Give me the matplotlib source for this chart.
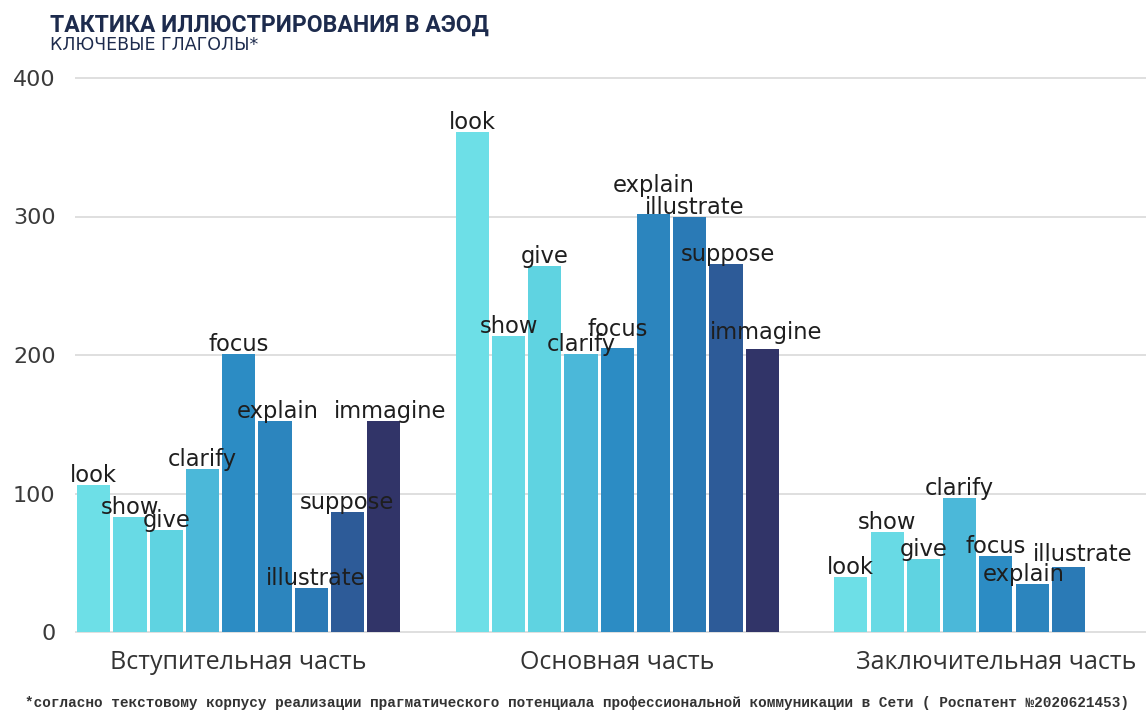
import matplotlib
matplotlib.use('Agg')
import matplotlib.pyplot as plt
import numpy as np

# data
categories = ['Вступительная часть', 'Основная часть', 'Заключительная часть']
verbs = ['look', 'show', 'give', 'clarify', 'focus', 'explain', 'illustrate', 'suppose', 'immagine']
intro_part = [106, 83, 74, 118, 201, 152, 32, 87, 152]
main_part = [361, 214, 264, 201, 205, 302, 300, 266, 204]
final_part = [40, 72, 53, 97, 55, 35, 47]
y_ticks = [0, 100, 200, 300, 400]

title = 'ТАКТИКА ИЛЛЮСТРИРОВАНИЯ В АЭОД'
subtitle = 'КЛЮЧЕВЫЕ ГЛАГОЛЫ*'
footnote = ('*согласно текстовому корпусу реализации прагматического потенциала '
            'профессиональной коммуникации в Сети ( Роспатент №2020621453)')

colors = ['#6ddfe7', '#68dae5', '#5fd3e1', '#4bb8d9', '#2c8cc4',
          '#2c85be', '#2a7ab6', '#2d5b98', '#313468']

# nudges of some bar labels (pixels), as placed in the reference
label_nudge = {
    (0, 'explain'): (3, 0), (0, 'illustrate'): (4, 0), (0, 'immagine'): (6, 0),
    (1, 'focus'): (0, 9), (1, 'explain'): (0, 19), (1, 'illustrate'): (5, 0),
    (1, 'suppose'): (2, 0), (1, 'immagine'): (4, 7),
    (2, 'explain'): (-8, 0), (2, 'illustrate'): (14, 3),
}

W, H = 1146, 713
fig = plt.figure(figsize=(W / 100, H / 100), dpi=100)
px = 138.5 / 100  # pixels per unit
bottom_px = 81 - 1 * px
ax = fig.add_axes([75 / W, bottom_px / H, 1 - 75 / W, 402 * px / H])

slot = 36.2 / 378
bar_w = 33 / 378
groups = [intro_part, main_part, final_part]
for g, values in enumerate(groups):
    for i, v in enumerate(values):
        x = g + (i - 4) * slot
        ax.bar(x, v, width=bar_w, color=colors[i], zorder=2)
        dx, dy = label_nudge.get((g, verbs[i]), (0, 0))
        ax.text(x + dx / 378, v + (3 + dy) / px, verbs[i], ha='center', va='baseline',
                fontsize=16.3, color='#1e1e1e', zorder=3)

ax.set_xlim(-(238.5 - 75) / 378, 2 + (W - 996) / 378)
ax.set_ylim(-1, 401)
ax.set_yticks(y_ticks)
ax.set_xticks(range(len(categories)), categories)
ax.yaxis.grid(True, color='#dcdcdc', linewidth=1.3, zorder=0)
ax.set_axisbelow(True)
for s in ax.spines.values():
    s.set_visible(False)
ax.tick_params(axis='y', length=0, pad=14, labelsize=16, labelcolor='#3a3a3a')
ax.tick_params(axis='x', length=0, pad=12, labelsize=18, labelcolor='#333333')
for lbl in ax.get_xticklabels():
    lbl.set_family('Open Sans')

fig.text(50 / W, 1 - 25 / H, title, ha='left', va='center', fontsize=16.6,
         fontweight='bold', color='#1d2b4d', family=['Roboto', 'DejaVu Sans'])
fig.text(50 / W, 1 - 45 / H, subtitle, ha='left', va='center', fontsize=12.5,
         color='#1d2b4d', family='DejaVu Sans')
fig.text(577 / W, 10 / H, footnote, ha='center', va='center', fontsize=10.4,
         color='#333333', fontweight='bold', family=['Liberation Mono', 'DejaVu Sans Mono'])

fig.savefig('out.png', dpi=100)
plt.close(fig)
